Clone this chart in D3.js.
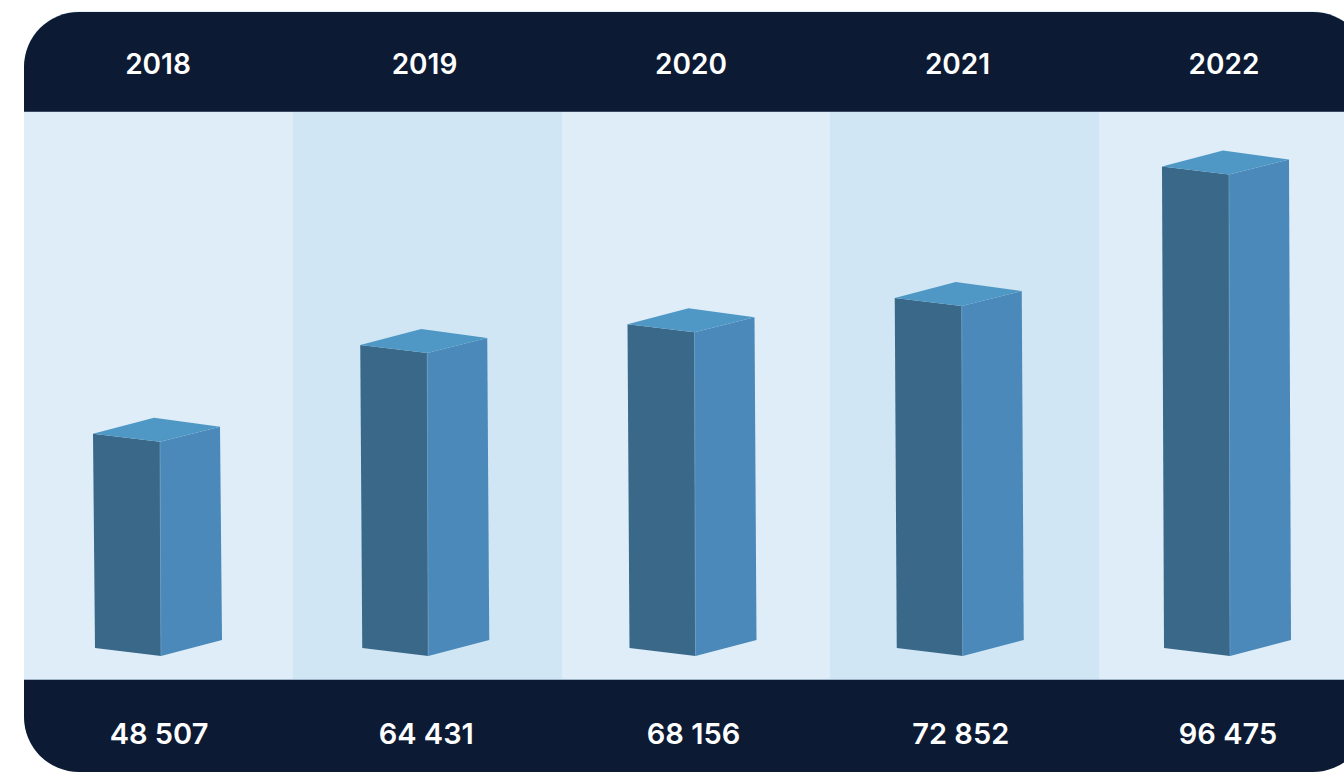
<!DOCTYPE html>
<html>
<head>
<meta charset="utf-8">
<script src="https://cdn.jsdelivr.net/npm/d3@7"></script>
<style>
  html, body { margin: 0; padding: 0; background: #ffffff; }
  svg { display: block; }
</style>
</head>
<body>
<svg id="chart" width="1344" height="773"></svg>
<script>
// ---- data ----
const years = ["2018", "2019", "2020", "2021", "2022"];
const values = [48507, 64431, 68156, 72852, 96475];
const valueLabels = ["48 507", "64 431", "68 156", "72 852", "96 475"];

// ---- layout ----
const W = 1344, H = 773;
const frame = { x: 24, y: 12, w: 1344, h: 760, r: 55 };
const bodyTop = 111, bodyBottom = 680;
const colors = {
  navy: "#0c1a34",
  colA: "#deedf8",
  colB: "#d1e6f4",
  left: "#3a6889",
  right: "#4a89ba",
  top: "#4f98c5"
};

const svg = d3.select("#chart");

svg.append("defs").append("clipPath").attr("id", "frameClip")
  .append("rect")
  .attr("x", frame.x).attr("y", frame.y)
  .attr("width", frame.w).attr("height", frame.h)
  .attr("rx", frame.r).attr("ry", frame.r);

// column band scale
const xCol = d3.scaleBand().domain(years).range([frame.x, frame.x + frame.w]).padding(0);
// bar front edge positions
const xBar = d3.scalePoint().domain(years).range([160, 1229]);
// label positions
const xYear = d3.scalePoint().domain(years).range([158, 1224]);
const xVal = d3.scalePoint().domain(years).range([159, 1228]);
// value scale (front edge top)
const y = d3.scaleLinear().domain([10000, 100000]).range([656, 155]);

// outer frame (light outline)
svg.append("rect")
  .attr("x", frame.x).attr("y", frame.y - 0.5)
  .attr("width", frame.w).attr("height", frame.h)
  .attr("rx", frame.r).attr("ry", frame.r)
  .attr("fill", "#cfe2f1");

const g = svg.append("g").attr("clip-path", "url(#frameClip)");

g.append("rect")
  .attr("x", frame.x).attr("y", frame.y)
  .attr("width", frame.w).attr("height", frame.h)
  .attr("fill", colors.navy);

// column backgrounds
g.selectAll("rect.col").data(years).join("rect")
  .attr("class", "col")
  .attr("x", d => Math.round(xCol(d)))
  .attr("y", bodyTop)
  .attr("width", d => Math.round(xCol(d) + xCol.bandwidth()) - Math.round(xCol(d)))
  .attr("height", bodyBottom - bodyTop)
  .attr("shape-rendering", "crispEdges")
  .attr("fill", (d, i) => i % 2 === 0 ? colors.colA : colors.colB);

// separator lines
g.append("line").attr("x1", frame.x).attr("x2", frame.x + frame.w)
  .attr("y1", bodyTop + 0.5).attr("y2", bodyTop + 0.5)
  .attr("stroke", "#3a4a66").attr("stroke-width", 1);
g.append("line").attr("x1", frame.x).attr("x2", frame.x + frame.w)
  .attr("y1", bodyBottom - 0.5).attr("y2", bodyBottom - 0.5)
  .attr("stroke", "#9fb3c8").attr("stroke-width", 1);

// 3D bars
const data = years.map((yr, i) => ({ yr, v: values[i] }));
const base = y.range()[0];
const bars = g.selectAll("g.bar").data(data).join("g").attr("class", "bar");

const lw = 67, rw = 60;
bars.append("path")
  .attr("fill", colors.left)
  .attr("d", d => {
    const fx = xBar(d.yr), ty = y(d.v);
    return `M${fx - lw},${ty - 8} L${fx},${ty} L${fx + 1},${base} L${fx - lw + 2},${base - 8} Z`;
  });
bars.append("path")
  .attr("fill", colors.right)
  .attr("d", d => {
    const fx = xBar(d.yr), ty = y(d.v);
    return `M${fx},${ty} L${fx + rw},${ty - 15} L${fx + rw + 2},${base - 16} L${fx + 1},${base} Z`;
  });
bars.append("path")
  .attr("fill", colors.top)
  .attr("d", d => {
    const fx = xBar(d.yr), ty = y(d.v);
    return `M${fx - lw},${ty - 8} L${fx - 6},${ty - 24} L${fx + rw},${ty - 15} L${fx},${ty} Z`;
  });
// subtle highlight on front edge
bars.append("line")
  .attr("x1", d => xBar(d.yr)).attr("y1", d => y(d.v))
  .attr("x2", d => xBar(d.yr) + 1).attr("y2", base)
  .attr("stroke", "#6a9cc2").attr("stroke-width", 0.8);

// year labels
g.selectAll("text.year").data(years).join("text")
  .attr("class", "year")
  .attr("x", d => xYear(d))
  .attr("y", 74)
  .attr("text-anchor", "middle")
  .attr("fill", "#ffffff")
  .style("font-family", "Inter, 'Open Sans', sans-serif")
  .style("font-weight", 600)
  .style("font-size", "28px")
  .text(d => d);

// value labels
g.selectAll("text.val").data(years).join("text")
  .attr("class", "val")
  .attr("x", d => xVal(d))
  .attr("y", 744)
  .attr("text-anchor", "middle")
  .attr("fill", "#ffffff")
  .style("font-family", "Inter, 'Open Sans', sans-serif")
  .style("font-weight", 600)
  .style("font-size", "29px")
  .text((d, i) => valueLabels[i]);
</script>
</body>
</html>
